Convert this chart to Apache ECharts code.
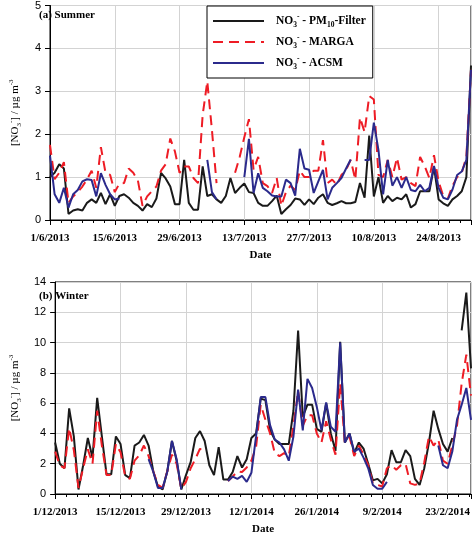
<!DOCTYPE html>
<html><head><meta charset="utf-8">
<script src="https://cdn.jsdelivr.net/npm/echarts@6/dist/echarts.min.js"></script>
<style>html,body{margin:0;padding:0;background:#fff}#c{width:474px;height:536px}</style>
</head><body><div id="c"></div>
<script>
const n = null;
const summerTicks = ['1/6/2013','15/6/2013','29/6/2013','13/7/2013','27/7/2013','10/8/2013','24/8/2013'];
const winterTicks = ['1/12/2013','15/12/2013','29/12/2013','12/1/2014','26/1/2014','9/2/2014','23/2/2014'];

// Summer: daily values from 1/6/2013 (day 0) to 31/8/2013 (day 91)
const summerFilter = [1.0,1.1,1.3,1.2,0.14,0.22,0.25,0.22,0.4,0.48,
 0.4,0.63,0.37,0.6,0.33,0.56,0.6,0.52,0.4,0.33,
 0.22,0.37,0.3,0.5,1.1,0.97,0.78,0.37,0.37,1.4,
 0.4,0.24,0.24,1.25,0.56,0.6,0.48,0.4,0.56,0.98,
 0.63,0.75,0.85,0.65,0.63,0.4,0.33,0.33,0.44,0.57,
 0.14,0.25,0.35,0.5,0.48,0.35,0.48,0.37,0.52,0.6,
 0.4,0.35,0.39,0.44,0.39,0.39,0.42,0.86,0.52,1.97,
 0.55,1.0,0.4,0.56,0.44,0.52,0.48,0.6,0.29,0.37,
 0.67,0.67,0.67,1.24,0.48,0.39,0.33,0.48,0.56,0.67,
 1.0,3.6];
const summerMarga = [1.75,0.95,1.1,1.35,0.4,0.55,0.65,0.78,0.95,1.15,
 0.75,1.7,1.1,1.05,0.65,0.85,0.86,1.2,1.1,0.92,
 0.33,0.55,0.67,0.78,1.15,1.3,1.9,1.6,1.1,1.25,
 1.25,0.98,0.86,2.45,3.23,2.1,0.86,n,n,n,
 1.1,1.47,1.93,2.35,1.17,1.47,0.86,0.79,0.63,0.98,
 0.33,0.65,0.8,0.7,1.15,1.0,1.0,1.15,1.15,1.86,
 0.86,0.94,0.82,1.05,1.17,1.4,0.94,2.39,2.05,2.89,
 2.81,1.05,1.0,1.4,1.0,1.45,0.94,1.0,0.86,0.79,
 1.47,1.25,0.98,1.51,0.9,0.56,0.5,0.8,1.0,1.1,
 1.47,3.5];
const summerAcsm = [1.5,0.6,0.4,0.75,0.29,0.6,0.7,0.9,0.95,0.93,
 0.55,1.09,0.82,0.6,0.48,0.5,n,n,n,n,
 n,n,n,n,n,n,n,n,n,n,
 n,n,n,n,1.4,0.65,0.48,n,n,n,
 n,n,1.0,1.89,0.63,1.09,0.75,0.67,0.57,0.55,
 0.55,0.94,0.86,0.57,1.66,1.2,1.17,0.63,0.9,1.17,
 0.48,0.75,0.86,0.98,1.2,1.41,n,n,1.4,1.4,
 2.27,1.63,0.6,1.4,0.8,1.0,0.75,1.0,0.7,0.67,
 0.82,0.67,0.75,1.26,0.75,0.52,0.48,0.71,1.05,1.13,
 1.4,3.5];

// Winter: daily values from 1/12/2013 (day 0) to 28/2/2014 (day 89)
const winterFilter = [3.4,2.0,1.7,5.65,3.8,0.3,1.9,3.7,2.4,6.35,
 3.8,1.3,1.3,3.8,3.3,1.25,1.05,3.2,3.4,3.9,
 3.2,1.5,0.5,0.3,1.5,3.5,2.2,0.3,1.25,2.1,
 3.7,4.15,3.5,1.9,1.25,3.1,0.95,0.95,1.45,2.5,
 1.75,2.3,3.7,4.0,6.3,6.2,4.2,3.6,3.3,3.3,
 3.3,5.5,10.8,5.1,5.9,5.9,4.3,4.1,6.0,4.0,
 2.85,10.05,3.4,4.0,2.7,3.4,3.0,2.0,0.9,1.0,
 0.7,1.3,2.9,2.1,2.1,2.9,2.5,1.0,0.6,1.7,
 3.4,5.5,4.3,3.3,2.8,3.7,n,10.8,13.3,8.3];
const winterMarga = [2.8,1.9,1.7,4.35,2.9,0.4,1.7,2.95,2.0,5.5,
 3.2,1.25,1.25,3.3,2.75,1.15,1.0,2.2,2.55,3.2,
 2.5,1.5,0.6,0.4,1.5,2.6,2.0,0.35,0.8,1.7,
 2.3,3.0,2.65,n,n,n,n,0.85,1.15,1.5,
 1.45,1.75,2.2,3.1,5.9,4.9,4.0,2.7,2.5,2.7,
 2.5,4.5,6.8,4.5,5.2,5.2,4.0,3.4,4.8,3.6,
 2.6,7.3,3.4,3.8,2.5,3.2,2.6,1.9,0.7,0.6,
 0.5,1.7,1.9,1.6,1.9,2.0,0.7,0.6,0.7,2.1,
 3.8,3.2,3.6,2.2,2.0,3.2,4.5,7.3,9.2,6.5];
const winterAcsm = [n,n,n,n,n,n,n,n,n,n,
 n,n,n,n,n,n,n,n,n,n,
 2.3,1.47,0.4,0.4,1.47,3.5,2.3,0.3,n,n,
 n,n,n,n,n,n,n,0.86,1.15,1.0,
 1.2,0.8,1.4,3.8,6.4,6.4,4.55,3.6,3.4,2.95,
 2.2,3.8,6.9,4.2,7.6,7.0,5.75,4.2,6.05,4.45,
 4.1,10.0,3.4,4.0,2.8,3.0,2.4,1.7,0.6,0.35,
 0.35,0.8,n,n,n,n,n,n,n,n,
 n,n,3.2,1.9,1.7,2.8,4.9,5.9,7.0,4.9];

const SERIF = '"Liberation Serif","Times New Roman",serif';
const SANS = '"Liberation Sans",Arial,sans-serif';
const toXY = arr => arr.map((v, i) => [i, v == null ? '-' : v]);

const subRich = {
  t: {fontFamily: SERIF, fontWeight: 'bold', fontSize: 11.5, color: '#000', lineHeight: 16},
  sub: {fontFamily: SERIF, fontWeight: 'bold', fontSize: 7.5, color: '#000', lineHeight: 8, verticalAlign: 'bottom'},
  sup: {fontFamily: SERIF, fontWeight: 'bold', fontSize: 7.5, color: '#000', lineHeight: 8, verticalAlign: 'top'}
};
const nameRich = {
  t: {fontFamily: SERIF, fontSize: 11, color: '#000', lineHeight: 15},
  sub: {fontFamily: SERIF, fontSize: 7, color: '#000', lineHeight: 7, verticalAlign: 'bottom'},
  sup: {fontFamily: SERIF, fontSize: 7, color: '#000', lineHeight: 7, verticalAlign: 'top'}
};
const legendNames = {
  'PM10-Filter': '{t|NO}{sub|3}{sup|-}{t| - PM}{sub|10}{t|-Filter}',
  'MARGA': '{t|NO}{sub|3}{sup|-}{t| - MARGA}',
  'ACSM': '{t|NO}{sub|3}{sup|-}{t| - ACSM}'
};

function xAxisCfg(gi, max, ticks) {
  return {
    type: 'value', gridIndex: gi, min: 0, max: max, interval: 14,
    name: 'Date', nameLocation: 'middle', nameGap: 30,
    nameTextStyle: {fontFamily: SERIF, fontWeight: 'bold', fontSize: 11, color: '#000'},
    axisLine: {show: true, onZero: false, lineStyle: {color: '#000', width: 1}},
    axisTick: {show: true, inside: false, length: 5, lineStyle: {color: '#000'}},
    minorTick: {show: true, splitNumber: 6, length: 3, lineStyle: {color: '#000'}},
    axisLabel: {margin: 13, fontFamily: SERIF, fontWeight: 'bold', fontSize: 11, color: '#000',
      formatter: v => (v % 14 === 0 ? (ticks[v / 14] || '') : '')},
    splitLine: {show: true, lineStyle: {color: '#d3d3d3', width: 1}}
  };
}
function yAxisCfg(gi, max, interval) {
  return {
    type: 'value', gridIndex: gi, min: 0, max: max, interval: interval,
    name: '{t|[NO}{sub|3}{sup|-}{t|] / µg m}{sup|-3}',
    nameLocation: 'middle', nameGap: 27, nameRotate: 90,
    nameTextStyle: {rich: nameRich},
    axisLine: {show: true, lineStyle: {color: '#000', width: 1}},
    axisTick: {show: true, inside: false, length: 5, lineStyle: {color: '#000'}},
    axisLabel: {margin: 9, fontFamily: SANS, fontSize: 11, color: '#000'},
    splitLine: {show: true, lineStyle: {color: '#d3d3d3', width: 1}}
  };
}
const styles = {
  'PM10-Filter': {color: '#1a1a1a', type: 'solid'},
  'MARGA': {color: '#ee1c25', type: [10, 6]},
  'ACSM': {color: '#2b2a8c', type: 'solid'}
};
function ser(name, data, gi) {
  return {
    name: name, type: 'line', xAxisIndex: gi, yAxisIndex: gi, data: toXY(data),
    symbol: 'none', connectNulls: false, animation: false,
    lineStyle: {color: styles[name].color, width: 2, type: styles[name].type},
    itemStyle: {color: styles[name].color}
  };
}

const chart = echarts.init(document.getElementById('c'), null, {renderer: 'canvas'});
chart.setOption({
  backgroundColor: '#fff',
  animation: false,
  title: [
    {text: '(a) Summer', left: 39, top: 10, padding: 0,
     textStyle: {fontFamily: SERIF, fontWeight: 'bold', fontSize: 11, color: '#000'}},
    {text: '(b) Winter', left: 39, top: 291, padding: 0,
     textStyle: {fontFamily: SERIF, fontWeight: 'bold', fontSize: 11, color: '#000'}}
  ],
  grid: [
    {left: 36, right: 1, top: 3, height: 217, show: true, borderColor: '#000', borderWidth: 1, backgroundColor: 'transparent'},
    {left: 36, right: 1, top: 282, height: 218, show: true, borderColor: '#000', borderWidth: 1, backgroundColor: 'transparent'}
  ],
  xAxis: [xAxisCfg(0, 91, summerTicks), xAxisCfg(1, 89, winterTicks)],
  yAxis: [yAxisCfg(0, 5, 1), yAxisCfg(1, 14, 2)],
  legend: {
    orient: 'vertical', left: 207, top: 6, padding: [7, 7, 7, 5],
    itemWidth: 51, itemHeight: 14, itemGap: 5,
    itemStyle: {opacity: 0, borderWidth: 0},
    backgroundColor: '#fff', borderColor: '#000', borderWidth: 1,
    selectedMode: false,
    data: ['PM10-Filter', 'MARGA', 'ACSM'],
    formatter: name => legendNames[name],
    textStyle: {rich: subRich, padding: [0, 0, 0, 7]}
  },
  series: [
    ser('PM10-Filter', summerFilter, 0),
    ser('MARGA', summerMarga, 0),
    ser('ACSM', summerAcsm, 0),
    ser('PM10-Filter', winterFilter, 1),
    ser('MARGA', winterMarga, 1),
    ser('ACSM', winterAcsm, 1)
  ]
});
</script>
</body></html>
